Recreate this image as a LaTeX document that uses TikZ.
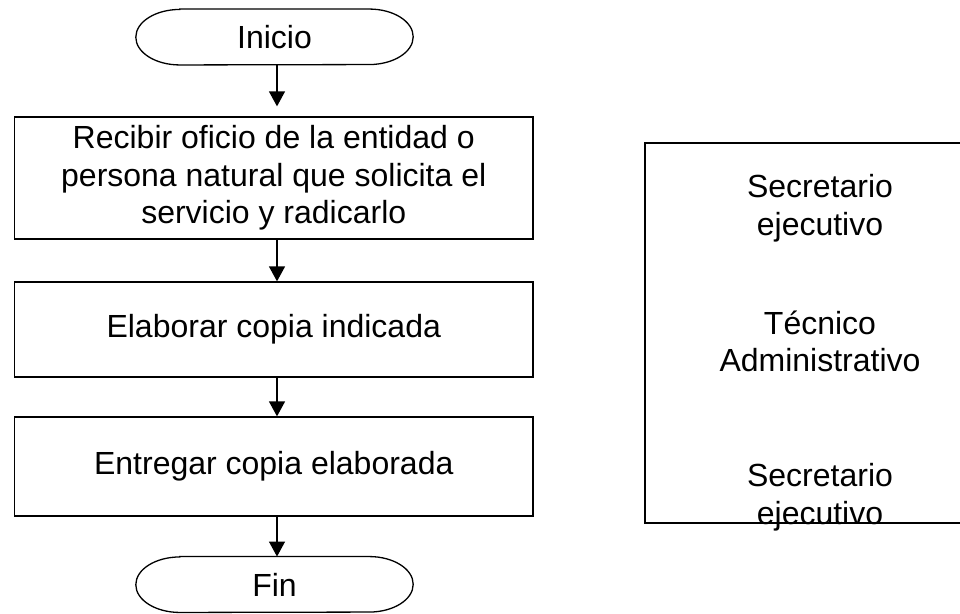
\documentclass[tikz,border=0pt]{standalone}
\usepackage{fontspec}
\setmainfont{Liberation Sans}
\usetikzlibrary{arrows.meta}
\tikzset{>={Triangle[length=15pt,width=16pt]}}

\begin{document}
\begin{tikzpicture}[x=1pt, y=-1pt,
    every node/.style={font=\fontsize{32}{37.5}\selectfont},
    terminal/.style={inner sep=0pt, minimum width=277pt, minimum height=55.5pt},
    proc/.style={draw, line width=1.3pt, inner sep=0pt, minimum width=518.5pt, align=center},
    flow/.style={->, line width=1.3pt},
    role/.style={align=center, inner sep=0pt}
  ]
    \useasboundingbox (0,0) rectangle (960,613);

    \node[terminal] (inicio)   at (274.5,37)    {Inicio};
    \node[proc, minimum height=122pt] (recibir) at (273.75,178)
      {Recibir oficio de la entidad o\\persona natural que solicita el\\servicio y radicarlo};
    \node[proc, minimum height=95pt]  (elaborar) at (273.75,329.5) {Elaborar copia indicada};
    \node[proc, minimum height=99pt]  (entregar) at (273.75,466.5) {Entregar copia elaborada};
    \node[terminal] (fin)      at (274.5,584.5) {Fin};

    % terminal outlines with elliptic ends
    \foreach \n in {inicio,fin}
      \draw[line width=1.3pt] ([xshift=44pt]\n.north west) -- ([xshift=-44pt]\n.north east)
        arc[start angle=90, end angle=-90, x radius=44pt, y radius=27.75pt]
        -- ([xshift=44pt]\n.south west)
        arc[start angle=270, end angle=90, x radius=44pt, y radius=27.75pt] -- cycle;

    \draw[flow, shorten >=10pt] ([xshift=2.5pt]inicio.south) -- ([xshift=3.25pt]recibir.north);
    \draw[flow] ([xshift=3.25pt]recibir.south) -- ([xshift=3.25pt]elaborar.north);
    \draw[flow] ([xshift=3.25pt]elaborar.south) -- ([xshift=3.25pt]entregar.north);
    \draw[flow] ([xshift=3.25pt]entregar.south) -- ([xshift=2.5pt]fin.north);

    % responsables
    \draw[line width=1.3pt] (960,143) -- (645,143) -- (645,523) -- (960,523);
    \node[role] (sec1) at (820,208.3) {Secretario\\ejecutivo};
    \node[role] (tec)  at (820,341.4) {Técnico\\Administrativo};
    \node[role] (sec2) at (820,497.3) {Secretario\\ejecutivo};
\end{tikzpicture}
\end{document}
